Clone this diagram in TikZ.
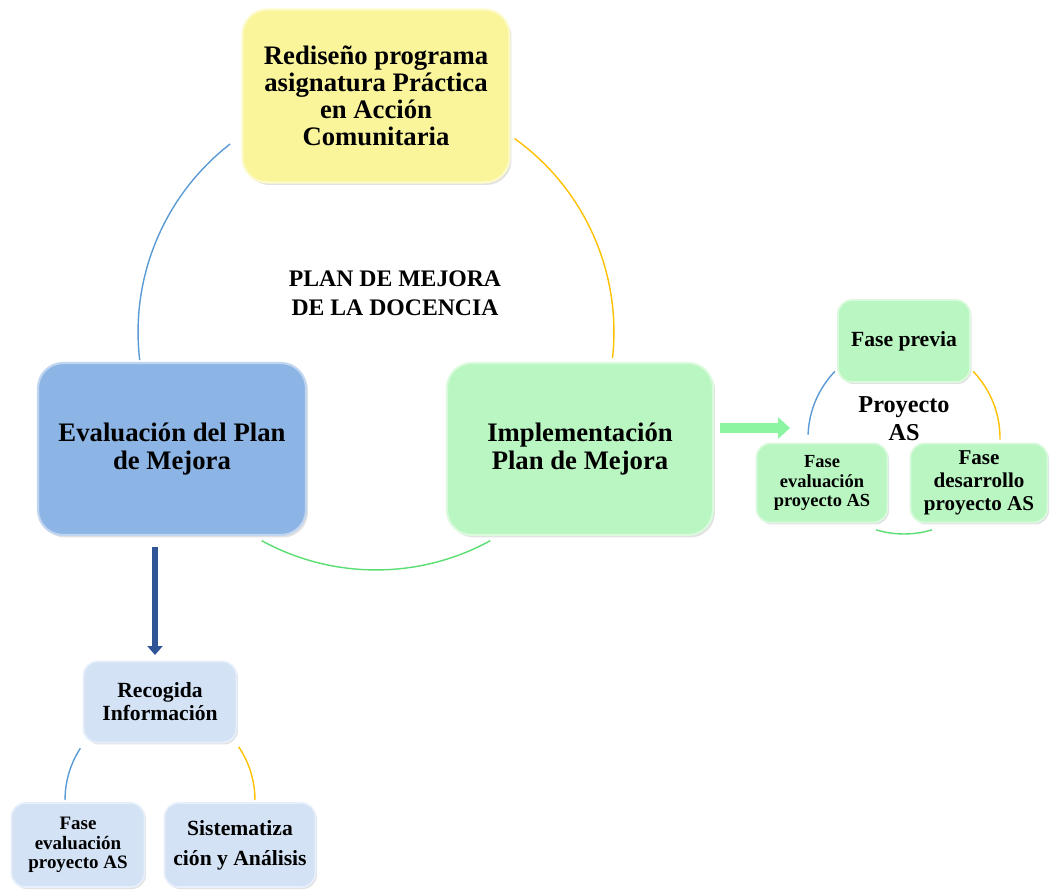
\documentclass[tikz,border=0pt]{standalone}
\usepackage{fontspec}
\setmainfont{Liberation Serif}
\usetikzlibrary{positioning,shapes,shadows,arrows.meta}
\definecolor{boxyellow}{RGB}{250,245,155}
\definecolor{boxblue}{RGB}{140,180,228}
\definecolor{boxgreen}{RGB}{186,246,194}
\definecolor{boxpale}{RGB}{212,226,245}
\definecolor{arcblue}{RGB}{91,155,213}
\definecolor{arcorange}{RGB}{255,192,0}
\definecolor{arcgreen}{RGB}{90,222,115}
\definecolor{arrowgreen}{RGB}{140,245,162}
\definecolor{arrowblue}{RGB}{47,85,151}
\tikzset{
  bigbox/.style={rounded corners=0.5cm, draw=#1!55!white, line width=1.2pt, fill=#1,
    drop shadow={shadow xshift=.04cm, shadow yshift=-.05cm, opacity=.25, fill=black!45},
    align=center, font=\bfseries\fontsize{15.2}{15.5}\selectfont, inner sep=2pt},
  smallbox/.style={rounded corners=0.28cm, draw=#1!55!white, line width=1pt, fill=#1,
    drop shadow={shadow xshift=.03cm, shadow yshift=-.04cm, opacity=.25, fill=black!45},
    align=center, inner sep=1pt},
  cyclearc/.style={line width=0.8pt},
  greenarrow/.style={draw=arrowgreen, line width=0.2cm, -{Triangle[length=0.24cm,width=0.42cm]}},
  downarrow/.style={draw=arrowblue, line width=0.12cm, -{Triangle[length=0.18cm,width=0.3cm]}}
}
\begin{document}
\begin{tikzpicture}[x=0.02cm, y=0.02cm]
  \useasboundingbox (0,0) rectangle (1050,890);

  % big cycle
  \coordinate (mid) at (376,558);
  \draw[cyclearc, arcblue]   (mid) ++(127.8:4.76cm) arc[start angle=127.8, end angle=186.8, radius=4.76cm];
  \draw[cyclearc, arcorange] (mid) ++(54.4:4.76cm)  arc[start angle=54.4,  end angle=-6.3,  radius=4.76cm];
  \draw[cyclearc, arcgreen]  (mid) ++(241.3:4.76cm) arc[start angle=241.3, end angle=298.7, radius=4.76cm];

  % small cycle (proyecto AS)
  \coordinate (midAS) at (904,452);
  \draw[cyclearc, arcblue]   (midAS) ++(136:1.92cm) arc[start angle=136, end angle=178, radius=1.92cm];
  \draw[cyclearc, arcorange] (midAS) ++(44:1.92cm)  arc[start angle=44,  end angle=-1,  radius=1.92cm];
  \draw[cyclearc, arcgreen]  (midAS) ++(253:1.92cm) arc[start angle=253, end angle=287, radius=1.92cm];

  % small cycle (recogida)
  \coordinate (midRI) at (160,90);
  \draw[cyclearc, arcblue]   (midRI) ++(147:1.9cm) arc[start angle=147, end angle=180, radius=1.9cm];
  \draw[cyclearc, arcorange] (midRI) ++(34:1.9cm)  arc[start angle=34,  end angle=0,   radius=1.9cm];
  \draw[cyclearc, arcgreen]  (midRI) ++(256:1.9cm) arc[start angle=256, end angle=284, radius=1.9cm];

  \node[bigbox=boxyellow, minimum width=5.34cm, minimum height=3.46cm] (redesign) at (376,794)
    {Rediseño programa\\asignatura Práctica\\en Acción\\Comunitaria};
  \node[bigbox=boxblue, minimum width=5.36cm, minimum height=3.44cm] (evalplan) at (172,441)
    {Evaluación del Plan\\de Mejora};
  \node[bigbox=boxgreen, minimum width=5.32cm, minimum height=3.44cm] (implplan) at (580,441)
    {Implementación\\Plan de Mejora};
  \node[align=center, font=\bfseries\fontsize{13.5}{16.5}\selectfont] (plantitle) at (395,597)
    {PLAN DE MEJORA\\DE LA DOCENCIA};

  \node[smallbox=boxgreen, minimum width=2.64cm, minimum height=1.64cm,
    font=\bfseries\fontsize{12.3}{13}\selectfont] (fprevia) at (904,549) {Fase previa};
  \node[smallbox=boxgreen, minimum width=2.62cm, minimum height=1.58cm,
    font=\bfseries\fontsize{10.5}{11}\selectfont] (fevalAS) at (822,407) {Fase\\evaluación\\proyecto AS};
  \node[smallbox=boxgreen, minimum width=2.74cm, minimum height=1.58cm,
    font=\bfseries\fontsize{12}{13}\selectfont] (fdesAS) at (979,407) {Fase\\desarrollo\\proyecto AS};
  \node[align=center, font=\bfseries\fontsize{13.8}{16}\selectfont] (proyAS) at (904,471) {Proyecto\\AS};

  \node[smallbox=boxpale, minimum width=3.06cm, minimum height=1.62cm,
    font=\bfseries\fontsize{12.3}{13}\selectfont] (recogida) at (160,188) {Recogida\\Información};
  \node[smallbox=boxpale, minimum width=2.66cm, minimum height=1.68cm,
    font=\bfseries\fontsize{10.8}{11}\selectfont] (fevalRI) at (78,45) {Fase\\evaluación\\proyecto AS};
  \node[smallbox=boxpale, minimum width=3.02cm, minimum height=1.68cm,
    font=\bfseries\fontsize{12.3}{17}\selectfont] (sistem) at (240,45) {Sistematiza\\ción y Análisis};

  % arrows
  \coordinate (ga0) at (720,462);
  \coordinate (ga1) at (790,462);
  \draw[greenarrow] (ga0) -- (ga1);
  \coordinate (da0) at (155,343);
  \coordinate (da1) at (155,235);
  \draw[downarrow] (da0) -- (da1);
\end{tikzpicture}
\end{document}
